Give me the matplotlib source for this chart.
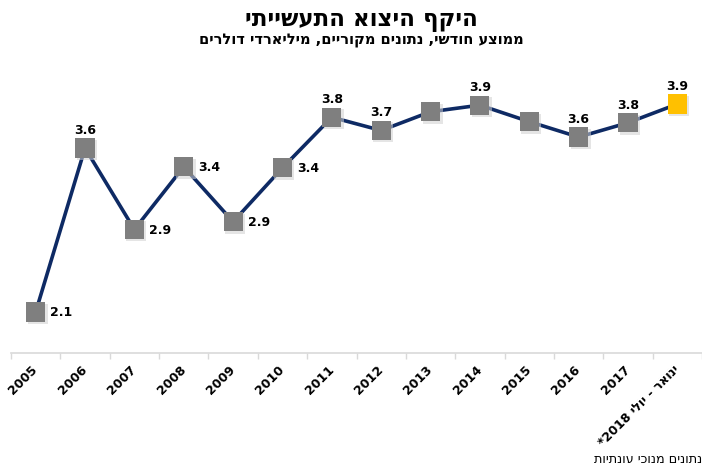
import matplotlib
matplotlib.use("Agg")
import matplotlib.pyplot as plt
from matplotlib.transforms import offset_copy


def rtl(s):
    # matplotlib lays text out left to right only: put Hebrew into visual order
    return s[::-1]


# Data (billions of USD, monthly average)
years = ["2005", "2006", "2007", "2008", "2009", "2010", "2011",
         "2012", "2013", "2014", "2015", "2016", "2017", "2018"]
values = [2.10, 3.59, 2.85, 3.42, 2.92, 3.41, 3.87,
          3.75, 3.92, 3.98, 3.83, 3.69, 3.82, 3.99]
value_labels = ["2.1", "3.6", "2.9", "3.4", "2.9", "3.4", "3.8",
                "3.7", "", "3.9", "", "3.6", "3.8", "3.9"]
label_side = ["r", "t", "r", "r", "r", "r", "t",
              "t", "", "t", "", "t", "t", "t"]

title = "היקף היצוא התעשייתי"
subtitle = "ממוצע חודשי, נתונים מקוריים, מיליארדי דולרים"
footnote = "נתונים מנוכי עונתיות"
last_label = "*2018 " + rtl("יולי") + " - " + rtl("ינואר")

tick_labels = years[:-1] + [last_label]

plt.rcParams["font.family"] = ["DejaVu Sans"]

fig = plt.figure(figsize=(7.02, 4.64), dpi=100)
ax = fig.add_axes([11 / 702, 110 / 464, 691 / 702, 299 / 464])

x = list(range(len(years)))
navy = "#0E2A64"
gray = "#7F7F7F"
gold = "#FFC000"

ax.plot(x, values, color=navy, lw=2.6, zorder=2, solid_capstyle="round")

# soft drop shadow behind the markers
shadow = offset_copy(ax.transData, fig=fig, x=2, y=-2, units="dots")
ax.scatter(x, values, marker="s", s=190, color="#D0D0D0", alpha=0.55,
           transform=shadow, zorder=3, linewidths=0)

colors = [gray] * (len(years) - 1) + [gold]
ax.scatter(x, values, marker="s", s=190, c=colors, zorder=4, linewidths=0)

for xi, v, lab, side in zip(x, values, value_labels, label_side):
    if not lab:
        continue
    if side == "t":
        ax.annotate(lab, (xi, v), xytext=(0, 13.5), textcoords="offset points",
                    ha="center", va="center", fontsize=9, fontweight="bold")
    else:
        ax.annotate(lab, (xi, v), xytext=(10.5, 0), textcoords="offset points",
                    ha="left", va="center", fontsize=9, fontweight="bold")

ax.set_xlim(-0.5, 13.34)
ax.set_ylim(1.727, 4.445)

for s in ["top", "left", "right"]:
    ax.spines[s].set_visible(False)
ax.spines["bottom"].set_color("#D9D9D9")
ax.spines["bottom"].set_linewidth(1.2)
ax.set_yticks([])

# labels at category centres, tick marks at category boundaries
ax.set_xticks(x)
ax.set_xticklabels(tick_labels, rotation=45, ha="right", va="center",
                   rotation_mode="anchor", fontsize=9, fontweight="bold")
ax.tick_params(axis="x", which="major", length=0, pad=10)
ax.set_xticks([i - 0.5 for i in range(len(years) + 1)], minor=True)
ax.tick_params(axis="x", which="minor", length=4, color="#D9D9D9", width=1)

fig.text(361 / 702, 1 - 20 / 464, rtl(title), ha="center", va="center",
         fontsize=16.5, fontweight="bold")
fig.text(361 / 702, 1 - 41 / 464, rtl(subtitle), ha="center", va="center",
         fontsize=10.5, fontweight="bold")
fig.text(1.0, 1 - 459 / 464, rtl(footnote), ha="right", va="center",
         fontsize=9.2)

fig.savefig("out.png", dpi=100)
